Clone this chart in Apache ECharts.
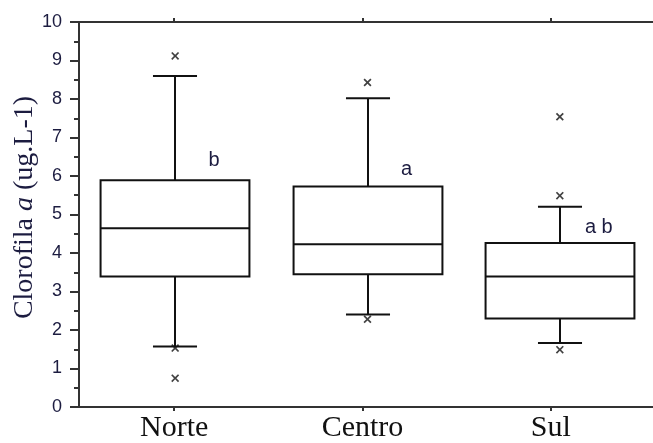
<!DOCTYPE html>
<html>
<head>
<meta charset="utf-8">
<script src="https://cdn.jsdelivr.net/npm/echarts@6/dist/echarts.min.js"></script>
<style>
  html, body { margin: 0; padding: 0; background: #fff; }
  #chart { width: 653px; height: 443px; }
</style>
</head>
<body>
<div id="chart"></div>
<script>
// Chlorophyll a by region: box summaries, outliers and significance letters
const categories = ['Norte', 'Centro', 'Sul'];
const lowerWhisker = [1.57, 2.40, 1.66];
const q1 = [3.39, 3.45, 2.30];
const median = [4.64, 4.23, 3.39];
const q3 = [5.89, 5.73, 4.26];
const upperWhisker = [8.60, 8.02, 5.20];
// [category index, value]
const outliers = [[0, 9.12], [0, 1.53], [0, 0.75], [1, 8.43], [1, 2.28], [2, 7.54], [2, 5.49], [2, 1.49]];
const letters = ['b', 'a', 'a b'];
const letterValues = [6.41, 6.18, 4.67];
const yTicks = [0, 1, 2, 3, 4, 5, 6, 7, 8, 9, 10];

const boxData = categories.map((c, i) => [i, lowerWhisker[i], q1[i], median[i], q3[i], upperWhisker[i]]);
const letterData = categories.map((c, i) => [i, letterValues[i], letters[i]]);

const INK = '#111';
const LABEL_INK = '#1c1c40';
const SERIF = '"Liberation Serif", "Times New Roman", serif';
const SANS = '"Liberation Sans", Arial, sans-serif';

function renderBox(params, api) {
  const x = api.value(0);
  const band = api.size([1, 0])[0];
  const boxW = band * 0.774;
  const capW = band * 0.229;
  const pLow = api.coord([x, api.value(1)]);
  const pQ1 = api.coord([x, api.value(2)]);
  const pMed = api.coord([x, api.value(3)]);
  const pQ3 = api.coord([x, api.value(4)]);
  const pHigh = api.coord([x, api.value(5)]);
  const cx = Math.round(pMed[0]);
  const st = { stroke: INK, lineWidth: 2, fill: null };
  const line = (x1, y1, x2, y2) => ({ type: 'line', shape: { x1, y1, x2, y2 }, style: st });
  return {
    type: 'group',
    children: [
      { type: 'rect', shape: { x: cx - boxW / 2, y: pQ3[1], width: boxW, height: pQ1[1] - pQ3[1] }, style: { stroke: INK, lineWidth: 2, fill: 'none' } },
      line(cx - boxW / 2, pMed[1], cx + boxW / 2, pMed[1]),
      line(cx, pQ3[1], cx, pHigh[1]),
      line(cx, pQ1[1], cx, pLow[1]),
      line(cx - capW / 2, pHigh[1], cx + capW / 2, pHigh[1]),
      line(cx - capW / 2, pLow[1], cx + capW / 2, pLow[1])
    ]
  };
}

function renderLetter(params, api) {
  const p = api.coord([api.value(0), api.value(1)]);
  return {
    type: 'text',
    x: p[0] + 39,
    y: p[1],
    style: {
      text: letters[params.dataIndex],
      fill: LABEL_INK,
      font: '20px ' + SANS,
      align: 'center',
      verticalAlign: 'middle'
    }
  };
}

const chart = echarts.init(document.getElementById('chart'), null, { renderer: 'canvas' });
chart.setOption({
  animation: false,
  backgroundColor: '#fff',
  grid: [
    { left: 79, right: -3, top: 22, bottom: 36, containLabel: false, outerBoundsMode: 'none' },
    { left: 80, right: 8, top: 22, bottom: 36, containLabel: false, outerBoundsMode: 'none' }
  ],
  xAxis: [
    {
      gridIndex: 0, type: 'category', data: categories, position: 'bottom',
      axisLine: { show: true, lineStyle: { color: '#333', width: 2 } },
      axisTick: { show: false }, axisLabel: { show: false }, splitLine: { show: false }
    },
    {
      gridIndex: 0, type: 'category', data: categories, position: 'top',
      axisLine: { show: true, lineStyle: { color: '#333', width: 2 } },
      axisTick: { show: false }, axisLabel: { show: false }, splitLine: { show: false }
    },
    {
      gridIndex: 1, type: 'category', data: categories, position: 'bottom',
      axisLine: { show: false },
      axisTick: { show: true, alignWithLabel: true, length: 4, inside: false, lineStyle: { color: '#333', width: 2 } },
      axisLabel: { show: true, margin: 6, color: '#111', fontFamily: SERIF, fontSize: 30 },
      splitLine: { show: false }
    },
    {
      gridIndex: 1, type: 'category', data: categories, position: 'top',
      axisLine: { show: false },
      axisTick: { show: true, alignWithLabel: true, length: 4, lineStyle: { color: '#333', width: 2 } },
      axisLabel: { show: false }, splitLine: { show: false }
    }
  ],
  yAxis: [
    {
      gridIndex: 0, type: 'value', min: yTicks[0], max: yTicks[yTicks.length - 1], interval: 1,
      axisLine: { show: true, lineStyle: { color: '#333', width: 2 } },
      axisTick: { show: true, length: 9, lineStyle: { color: '#333', width: 2 } },
      minorTick: { show: true, splitNumber: 2, length: 5, lineStyle: { color: '#333', width: 2 } },
      axisLabel: { margin: 17, color: LABEL_INK, fontFamily: SANS, fontSize: 18 },
      splitLine: { show: false },
      name: '{r|Clorofila }{i|a}{r| (ug.L-1)}',
      nameLocation: 'middle',
      nameGap: 40,
      nameMoveOverlap: false,
      nameRotate: 90,
      nameTextStyle: {
        padding: [0, 0, 0, 14],
        rich: {
          r: { fontFamily: SERIF, fontSize: 28, color: LABEL_INK },
          i: { fontFamily: SERIF, fontSize: 28, fontStyle: 'italic', color: LABEL_INK }
        }
      }
    },
    {
      gridIndex: 1, type: 'value', min: 0, max: 10, show: false
    }
  ],
  series: [
    {
      type: 'custom', xAxisIndex: 0, yAxisIndex: 0,
      renderItem: renderBox,
      encode: { x: 0, y: [1, 2, 3, 4, 5] },
      data: boxData,
      clip: false
    },
    {
      type: 'scatter', xAxisIndex: 0, yAxisIndex: 0,
      symbol: 'path://M0,1.5L1.5,0L5,3.5L8.5,0L10,1.5L6.5,5L10,8.5L8.5,10L5,6.5L1.5,10L0,8.5L3.5,5Z',
      symbolSize: 8,
      itemStyle: { color: INK },
      data: outliers,
      z: 5
    },
    {
      type: 'custom', xAxisIndex: 0, yAxisIndex: 0,
      renderItem: renderLetter,
      encode: { x: 0, y: 1 },
      data: letterData
    }
  ]
});
</script>
</body>
</html>
